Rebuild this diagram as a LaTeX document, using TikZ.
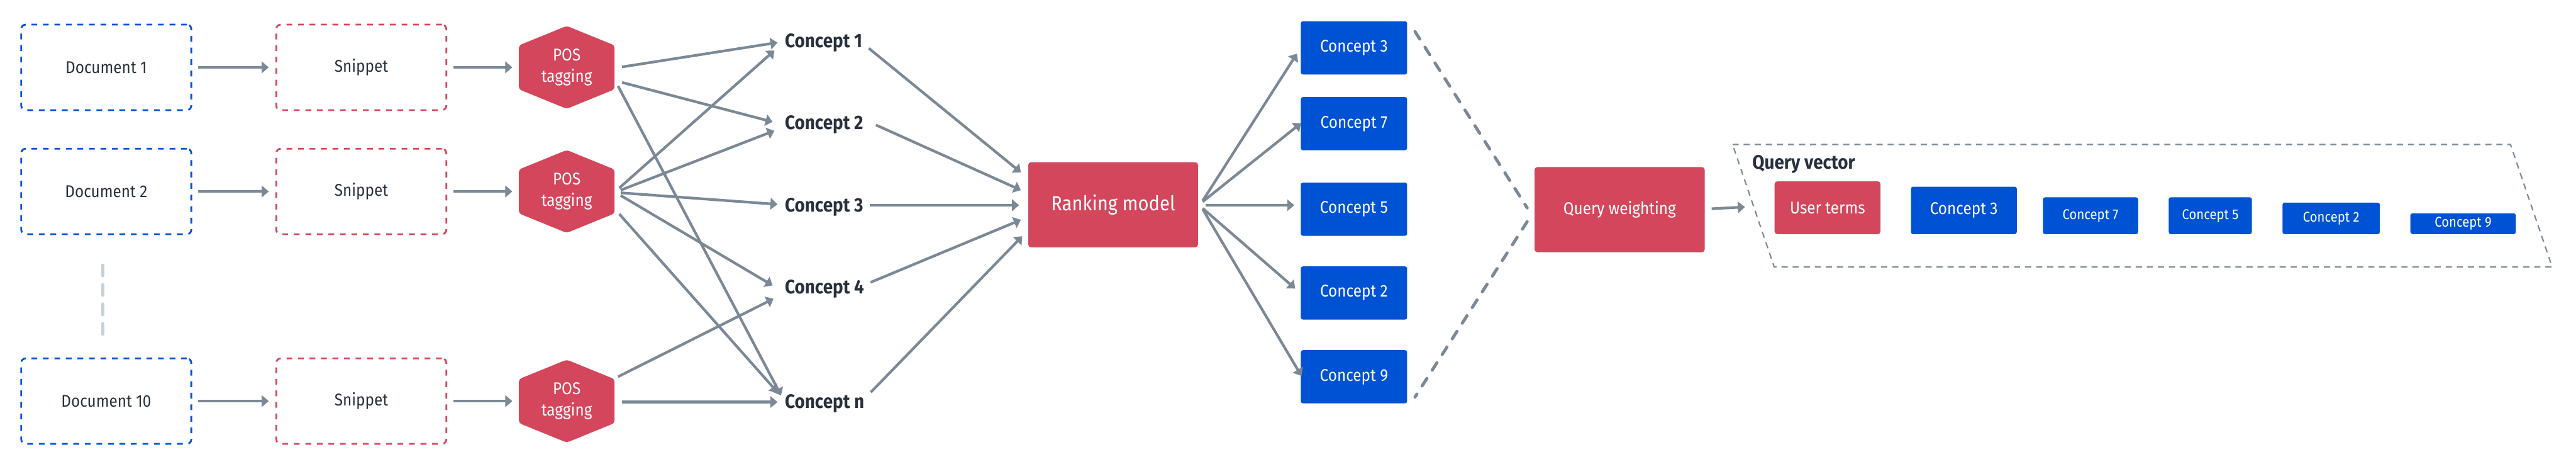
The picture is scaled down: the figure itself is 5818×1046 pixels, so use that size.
\documentclass[tikz,border=0pt]{standalone}
\usepackage{fontspec}
\setmainfont{Fira Sans}[FakeStretch=0.9]
\usetikzlibrary{arrows.meta,calc}
\definecolor{cred}{HTML}{D4465B}
\definecolor{cblue}{HTML}{0052D4}
\definecolor{cgray}{HTML}{7B8996}
\definecolor{ctext}{HTML}{27313D}
\definecolor{cvdash}{HTML}{C5D1DA}
\tikzset{
  fnt/.style={font=\fontsize{9.6pt}{12pt}\selectfont},
  smallfnt/.style={font=\fontsize{8pt}{9pt}\selectfont},
  docbox/.style={draw=cblue, line width=1pt, dash pattern=on 3.25pt off 3.25pt, rounded corners=2.5pt,
    minimum width=96pt, minimum height=48.25pt, fnt, text=ctext},
  snipbox/.style={docbox, draw=cred},
  hexnode/.style={minimum width=54pt, minimum height=46.75pt, inner sep=0pt, text=white, align=center, fnt,
    path picture={\fill[cred, rounded corners=1.5pt] (path picture bounding box.north)
      -- ($(path picture bounding box.north east)!0.235!(path picture bounding box.south east)$)
      -- ($(path picture bounding box.north east)!0.765!(path picture bounding box.south east)$)
      -- (path picture bounding box.south)
      -- ($(path picture bounding box.north west)!0.765!(path picture bounding box.south west)$)
      -- ($(path picture bounding box.north west)!0.235!(path picture bounding box.south west)$) -- cycle;}},
  conc/.style={font=\bfseries\fontsize{11pt}{12pt}\selectfont, text=ctext, inner sep=0pt, text height=7.5pt, text depth=0pt, anchor=west},
  redbox/.style={fill=cred, rounded corners=1.5pt, text=white, inner sep=0pt},
  bluebox/.style={fill=cblue, rounded corners=1.2pt, text=white, inner sep=0pt},
  arr/.style={draw=cgray, line width=1.5pt, -{Triangle[length=4pt,width=6.5pt]}},
  bigdash/.style={draw=cgray, line width=1.75pt, line cap=round, dash pattern=on 5pt off 5.5pt},
}
\begin{document}
\begin{tikzpicture}[x=0.25pt,y=-0.25pt]
\useasboundingbox (0,0) rectangle (5818,1046);
% documents and snippets
\node[docbox] (d1) at (240,152) {Document 1};
\node[docbox] (d2) at (240,432) {Document 2};
\node[docbox] (d10) at (240,905) {Document 10};
\node[snipbox] (s1) at (816,152) {Snippet};
\node[snipbox] (s2) at (816,432) {Snippet};
\node[snipbox] (s10) at (816,905) {Snippet};
\node[hexnode] (p1) at (1280,152) {POS\\tagging};
\node[hexnode] (p2) at (1280,432) {POS\\tagging};
\node[hexnode] (p3) at (1280,905) {POS\\tagging};
\foreach \a/\b in {d1/s1,d2/s2,d10/s10}
  \draw[arr] ($(\a.east)+(13,0)$) -- ($(\b.west)+(-15,0)$);
\foreach \a/\b in {s1/p1,s2/p2,s10/p3}
  \draw[arr] ($(\a.east)+(14,0)$) -- ($(\b.west)+(-14,0)$);
\draw[cvdash, line width=2pt, line cap=round, dash pattern=on 5.75pt off 5.25pt]
  ($(d2.south)+(-8,68)$) -- ($(d10.north)+(-8,-48)$);
% concepts
\node[conc] (c1) at (1772,92) {Concept 1};
\node[conc] (c2) at (1772,277) {Concept 2};
\node[conc] (c3) at (1772,463) {Concept 3};
\node[conc] (c4) at (1772,648) {Concept 4};
\node[conc] (cn) at (1772,906) {Concept n};
\draw[arr] ($(p1.east)+(16,-1)$) -- ($(c1.west)+(-16,4)$);
\draw[arr] ($(p1.east)+(16,34)$) -- ($(c2.west)+(-27,-2)$);
\draw[arr] ($(p1.east)+(7,42)$) -- ($(cn.west)+(-8,-14)$);
\draw[arr] ($(p2.east)+(10,-8)$) -- ($(c1.west)+(-23,22)$);
\draw[arr] ($(p2.east)+(13,-3)$) -- ($(c2.west)+(-23,18)$);
\draw[arr] ($(p2.east)+(13,3)$) -- ($(c3.west)+(-16,-2)$);
\draw[arr] ($(p2.east)+(13,9)$) -- ($(c4.west)+(-27,-4)$);
\draw[arr] ($(p2.east)+(10,51)$) -- ($(cn.west)+(-16,-21)$);
\draw[arr] ($(p3.east)+(7,-55)$) -- ($(c4.west)+(-25,26)$);
\draw[arr] ($(p3.east)+(16,2)$) -- ($(cn.west)+(-16,1)$);
% ranking model
\node[redbox, minimum width=95.75pt, minimum height=48pt, font=\fontsize{11.5pt}{12pt}\selectfont] (r) at (2514,462) {Ranking model};
\draw[arr] ($(c1.east)+(14,17)$) -- ($(r.west)+(-16,-73)$);
\draw[arr] ($(c2.east)+(28,5)$) -- ($(r.west)+(-16,-33)$);
\draw[arr] ($(c3.east)+(14,0)$) -- ($(r.west)+(-20,1)$);
\draw[arr] ($(c4.east)+(14,-11)$) -- ($(r.west)+(-16,34)$);
\draw[arr] ($(cn.east)+(14,-21)$) -- ($(r.west)+(-13,71)$);
% ranked concepts
\node[bluebox, minimum width=60pt, minimum height=30pt, fnt] (b3) at (3058,108) {Concept 3};
\node[bluebox, minimum width=60pt, minimum height=30pt, fnt] (b7) at (3058,279) {Concept 7};
\node[bluebox, minimum width=60pt, minimum height=30pt, fnt] (b5) at (3058,472) {Concept 5};
\node[bluebox, minimum width=60pt, minimum height=30pt, fnt] (b2) at (3058,661) {Concept 2};
\node[bluebox, minimum width=60pt, minimum height=30pt, fnt] (b9) at (3058,850) {Concept 9};
\draw[arr] ($(r.east)+(10,-9)$) -- ($(b3.west)+(-8,13)$);
\draw[arr] ($(r.east)+(10,-7)$) -- ($(b7.west)+(1,-1)$);
\draw[arr] ($(r.east)+(16,1)$) -- ($(b5.west)+(-14,-9)$);
\draw[arr] ($(r.east)+(10,8)$) -- ($(b2.west)+(-12,-10)$);
\draw[arr] ($(r.east)+(10,10)$) -- ($(b9.west)+(2,-2)$);
% query weighting
\node[redbox, minimum width=96pt, minimum height=48pt, fnt] (qw) at (3658,473) {Query weighting};
\draw[bigdash] ($(b3.north east)+(17,24)$) -- ($(qw.west)+(-16,-4)$);
\draw[bigdash] ($(qw.west)+(-16,27)$) -- ($(b9.south east)+(17,-15)$);
% query vector
\draw[cgray, line width=0.75pt, dash pattern=on 3.5pt off 2.75pt] (3913,326) -- (5670,326) -- (5764,602) -- (4007,602) -- cycle;
\coordinate (qvin) at (3941,467);
\draw[arr] ($(qw.east)+(15,-2)$) -- (qvin);
\node[font=\bfseries\fontsize{11pt}{12pt}\selectfont, text=ctext, inner sep=0pt, text height=7.5pt, text depth=0pt, anchor=west] (qvt) at (3957,366) {Query vector};
\node[redbox, minimum width=59.75pt, minimum height=29.75pt, anchor=south, fnt] (vu) at (4127.5,529) {User terms};
\node[bluebox, minimum width=59.75pt, minimum height=26.75pt, anchor=south, fnt] (v3) at (4435.5,529) {Concept 3};
\node[bluebox, minimum width=53.75pt, minimum height=20.75pt, anchor=south, smallfnt] (v7) at (4721.5,529) {Concept 7};
\node[bluebox, minimum width=47pt, minimum height=20.75pt, anchor=south, smallfnt] (v5) at (4992,529) {Concept 5};
\node[bluebox, minimum width=55pt, minimum height=17.75pt, anchor=south, smallfnt] (v2) at (5265,529) {Concept 2};
\node[bluebox, minimum width=59.5pt, minimum height=11.75pt, anchor=south, smallfnt] (v9) at (5563,529) {Concept 9};
\end{tikzpicture}
\end{document}
